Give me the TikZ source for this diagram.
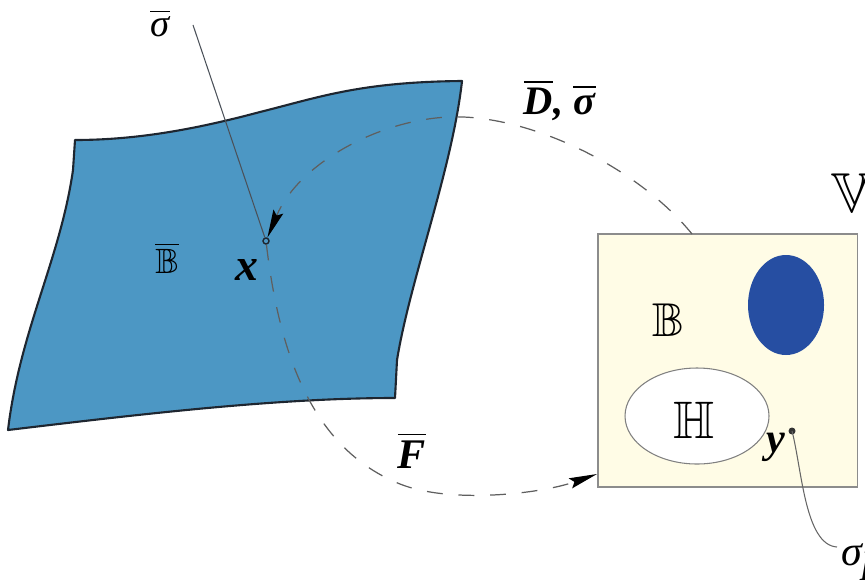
\documentclass[tikz,border=0pt]{standalone}
\usepackage{amssymb}
\usepackage{fontspec}
\setmainfont{Liberation Serif}
\usetikzlibrary{arrows.meta}
\definecolor{bodyblue}{RGB}{76,151,196}
\definecolor{deepblue}{RGB}{38,78,162}
\definecolor{paleyellow}{RGB}{255,252,230}
\definecolor{edgedark}{RGB}{30,38,48}
\definecolor{dashgray}{RGB}{95,95,95}
\newcommand\bix[1]{\textbf{\textit{#1}}}
\tikzset{
  lbl/.style={inner sep=0pt, text=black},
  mapline/.style={draw=dashgray, line width=0.35pt, dash pattern=on 4.5pt off 4.5pt},
  tipA/.style={-{Stealth[length=8pt,width=3pt,inset=1.2pt,color=black]}},
  thinline/.style={draw=edgedark!80, line width=0.3pt}
}
\begin{document}
\begin{tikzpicture}[x=0.01cm,y=-0.01cm]
\useasboundingbox (0,0) rectangle (865,585);
\clip (0,0) rectangle (865,585);

% reference body
\fill[bodyblue] (8,430) .. controls (150,413) and (280,398) .. (395,398)
  -- (397,360) .. controls (410,280) and (452,170) .. (462,81)
  .. controls (360,82) and (320,97) .. (260,112)
  .. controls (200,128) and (140,140) .. (75,140)
  -- (73,170) .. controls (60,260) and (20,330) .. cycle;
\draw[edgedark, line width=0.6pt, line join=round] (8,430) .. controls (150,413) and (280,398) .. (395,398)
  -- (397,360) .. controls (410,280) and (452,170) .. (462,81)
  .. controls (360,82) and (320,97) .. (260,112)
  .. controls (200,128) and (140,140) .. (75,140)
  -- (73,170) .. controls (60,260) and (20,330) .. cycle;

% current configuration box
\draw[fill=paleyellow, draw=black!45, line width=0.3pt] (598,234) rectangle (857,487);
\fill[deepblue] (786,305) ellipse [x radius=38, y radius=50];
\draw[fill=white, draw=black!50, line width=0.3pt] (697,416) ellipse [x radius=72, y radius=48];

% named points
\node[circle, draw=edgedark, fill=bodyblue, line width=0.4pt, inner sep=0pt, minimum size=6*0.01cm] (xpt) at (266,241) {};
\coordinate (sigstart) at (193,25);
\coordinate (Dstart) at (692,234);
\coordinate (Fend) at (597,474);
\fill[black!80] (792,431) circle (3.5*0.01cm) coordinate (ydot);
\coordinate (sigend) at (837,547);

% labels
\node[lbl] (sigbar) at (160,23) {\fontsize{11}{13}\selectfont $\overline{\mbox{\itshape σ}}$};
\node[lbl] (Dlabel) at (560,100) {\fontsize{11.5}{14}\selectfont $\overline{\mbox{\bix{D}}}$\bix{,} $\overline{\mbox{\bix{σ}}}$};
\node[lbl] (Bbar) at (167,258) {\fontsize{10}{12}\selectfont $\overline{\mathbb{B}}$};
\node[lbl] (xlab) at (247,270) {\fontsize{13}{15}\selectfont \bix{x}};
\node[lbl] (Flab) at (412,450) {\fontsize{12}{14}\selectfont $\overline{\mbox{\bix{F}}}$};
\node[lbl] (Vlab) at (852,193) {\fontsize{16}{18}\selectfont $\mathbb{V}$};
\node[lbl] (Blab) at (668,320) {\fontsize{13.5}{16}\selectfont $\mathbb{B}$};
\node[lbl] (Hlab) at (694,420) {\fontsize{15}{17}\selectfont $\mathbb{H}$};
\node[lbl] (ylab) at (776,447) {\fontsize{12}{14}\selectfont \bix{y}};
\node[lbl, anchor=west] (sigp) at (841,562) {\fontsize{12}{14}\selectfont $\mbox{\itshape σ}_{\mbox{\itshape p}}$};

% connectors
\draw[thinline] (sigstart) -- (xpt);
\draw[mapline, tipA] (Dstart) .. controls (640,170) and (540,120) .. (463,117)
  .. controls (390,114) and (300,160) .. (xpt);
\draw[mapline, tipA] (xpt) .. controls (280,360) and (315,450) .. (400,484)
  .. controls (450,504) and (540,494) .. (Fend);
\draw[draw=black!60, line width=0.3pt] (ydot) .. controls (802,470) and (805,545) .. (sigend);
\end{tikzpicture}
\end{document}
